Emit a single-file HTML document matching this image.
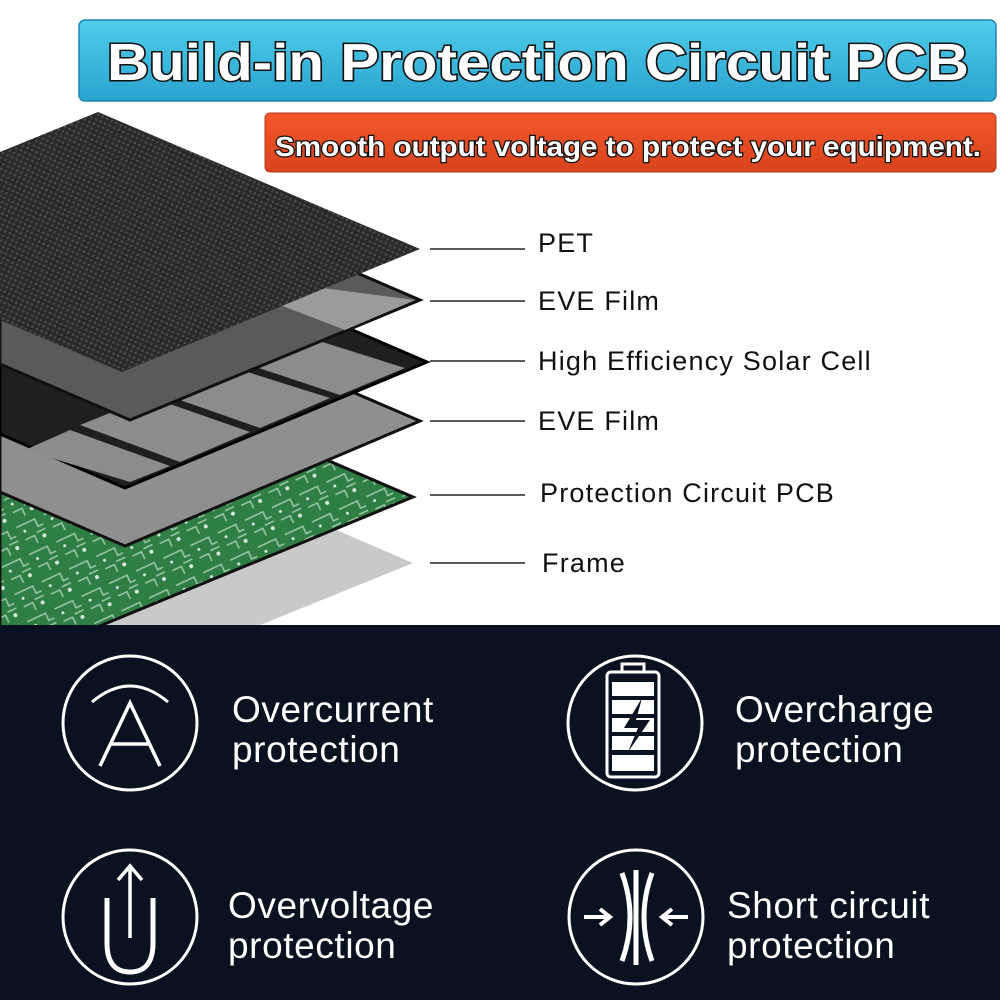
<!DOCTYPE html>
<html><head><meta charset="utf-8"><style>
html,body{margin:0;padding:0;background:#fff;}
svg{display:block}
</style></head><body>
<svg width="1000" height="1000" viewBox="0 0 1000 1000" xmlns="http://www.w3.org/2000/svg">
<defs>
<linearGradient id="blue" x1="0" y1="0" x2="0" y2="1"><stop offset="0" stop-color="#4fcdea"/><stop offset="1" stop-color="#2aa3cf"/></linearGradient>
<linearGradient id="orange" x1="0" y1="0" x2="0" y2="1"><stop offset="0" stop-color="#f4572c"/><stop offset="1" stop-color="#d8431c"/></linearGradient>
<pattern id="dots" width="5" height="5" patternUnits="userSpaceOnUse" patternTransform="rotate(25)"><rect width="5" height="5" fill="#2a2a2a"/><circle cx="2.5" cy="2.5" r="1.3" fill="#4a4a4a"/></pattern>
<pattern id="pcb" width="30" height="30" patternUnits="userSpaceOnUse" patternTransform="rotate(-25)"><rect width="30" height="30" fill="#2f7f45"/><path d="M2 5h20v8h6M5 20h10v8M18 18h10" stroke="#9fc8a8" stroke-width="1.5" fill="none"/><circle cx="24" cy="24" r="2" fill="#d8e8dc"/><circle cx="8" cy="12" r="1.5" fill="#d8e8dc"/></pattern>
</defs>
<rect width="1000" height="625" fill="#fff"/>
<!-- frame -->
<polygon points="413,563 250,493 0,460 0,690 100,690" fill="#c9c9c9"/>
<!-- pcb -->
<polygon points="413,497 250,427 0,380 0,630 90,630" fill="url(#pcb)" stroke="#111" stroke-width="3"/>
<!-- EVE2 -->
<polygon points="420,421 250,348 0,330 0,492 125,546" fill="#8f8f8f" stroke="#111" stroke-width="3"/>
<!-- solar cell -->
<polygon points="427,362 250,286 0,250 0,434 125,488" fill="#1f1f1f" stroke="#000" stroke-width="3"/>
<g fill="#8c8c8c">
<polygon points="300,335 405,368 340,395 235,360"/>
<polygon points="225,365 330,398 260,428 160,393"/>
<polygon points="150,397 250,432 180,462 80,425"/>
<polygon points="70,430 170,466 130,482 25,450"/>
</g>
<!-- EVE1 -->
<polygon points="420,300 250,227 0,200 0,364 130,420" fill="#5a5a5a" stroke="#111" stroke-width="3"/>
<polygon points="300,285 415,300 345,330 280,305" fill="#9b9b9b"/>
<!-- PET -->
<polygon points="0,152 98,112 420,249 122,372 0,320" fill="url(#dots)"/>
<!-- label lines -->
<g stroke="#222" stroke-width="1.6">
<line x1="430" y1="249" x2="525" y2="249"/><line x1="430" y1="301" x2="525" y2="301"/>
<line x1="430" y1="361" x2="525" y2="361"/><line x1="430" y1="421" x2="525" y2="421"/>
<line x1="430" y1="495" x2="525" y2="495"/><line x1="430" y1="563" x2="525" y2="563"/>
</g>
<g font-family="Liberation Sans, sans-serif" font-size="27" fill="#111" letter-spacing="1.2">
<text x="538" y="252">PET</text><text x="538" y="310">EVE Film</text>
<text x="538" y="370">High Efficiency Solar Cell</text><text x="538" y="430">EVE Film</text>
<text x="540" y="502">Protection Circuit PCB</text><text x="542" y="572">Frame</text>
</g>
<!-- header -->
<rect x="79" y="20" width="917" height="81" rx="6" fill="url(#blue)" stroke="#1d86ad" stroke-width="1.5"/>
<text x="538" y="80" text-anchor="middle" font-family="Liberation Sans, sans-serif" font-weight="bold" font-size="52" fill="#fff" stroke="#111" stroke-width="3" paint-order="stroke" textLength="862" lengthAdjust="spacingAndGlyphs">Build-in Protection Circuit PCB</text>
<rect x="265" y="113" width="731" height="59" rx="5" fill="url(#orange)" stroke="#b8391a"/>
<text x="628" y="156" text-anchor="middle" font-family="Liberation Sans, sans-serif" font-weight="bold" font-size="28" fill="#fff" stroke="#111" stroke-width="2.5" paint-order="stroke" textLength="706" lengthAdjust="spacingAndGlyphs">Smooth output voltage to protect your equipment.</text>
<!-- bottom -->
<rect x="0" y="625" width="1000" height="375" fill="#0a1120"/>
<g stroke="#fff" stroke-width="3" fill="none">
<circle cx="130" cy="723" r="67"/><circle cx="130" cy="917" r="67"/>
<circle cx="635" cy="723" r="67"/><circle cx="636" cy="917" r="67"/>
<path d="M92,702 Q130,670 168,702"/>
<path d="M100,766 L130,703 L160,766 M111,744 H149" stroke-width="3.5"/>
<path d="M107,898 V943 Q107,972 130,972 Q153,972 153,943 V898" stroke-width="5"/>
<path d="M130,938 V867 M118,880 L130,866 L142,880" stroke-width="3.5"/>
<rect x="607" y="672" width="52" height="105" rx="4" stroke-width="3"/>
<rect x="622" y="664" width="22" height="8"/>
<path d="M622,873 Q638,917 622,961 M636,870 V965 M652,873 Q636,917 652,961" stroke-width="5"/>
<path d="M584,917 H608 M600,909 L610,917 L600,925 M688,917 H664 M672,909 L662,917 L672,925" stroke-width="4"/>
</g>
<g fill="#fff">
<rect x="612" y="682" width="42" height="14"/><rect x="612" y="700" width="42" height="14"/>
<rect x="612" y="718" width="42" height="14"/><rect x="612" y="736" width="42" height="14"/>
<rect x="612" y="755" width="42" height="16"/>
</g>
<path d="M642,698 L624,728 L638,728 L628,752 L650,720 L636,720 Z" fill="#0a1120"/>
<g font-family="Liberation Sans, sans-serif" font-size="37" fill="#fff" letter-spacing="0.6">
<text x="232" y="722">Overcurrent</text><text x="232" y="762">protection</text>
<text x="735" y="722">Overcharge</text><text x="735" y="762">protection</text>
<text x="228" y="918">Overvoltage</text><text x="228" y="958">protection</text>
<text x="727" y="918">Short circuit</text><text x="727" y="958">protection</text>
</g>
</svg>
</body></html>
